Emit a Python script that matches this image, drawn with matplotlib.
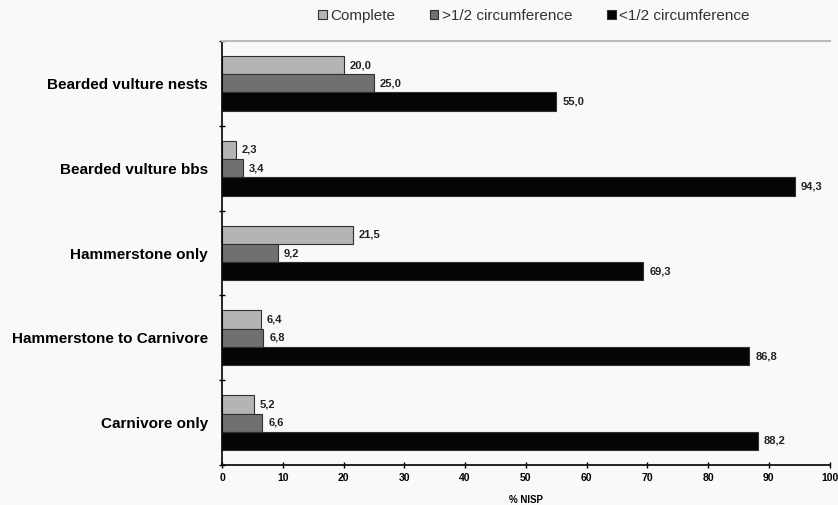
import matplotlib
matplotlib.use("Agg")
import matplotlib.pyplot as plt
import numpy as np

categories = ["Bearded vulture nests", "Bearded vulture bbs", "Hammerstone only",
              "Hammerstone to Carnivore", "Carnivore only"]
series_names = ["Complete", ">1/2 circumference", "<1/2 circumference"]
complete = [20.0, 2.3, 21.5, 6.4, 5.2]
more_half = [25.0, 3.4, 9.2, 6.8, 6.6]
less_half = [55.0, 94.3, 69.3, 86.8, 88.2]
colors = ["#b4b4b4", "#707070", "#050505"]

plt.rcParams['font.family'] = ['Liberation Sans', 'DejaVu Sans']
fig = plt.figure(figsize=(8.38, 5.05), dpi=100)
fig.patch.set_facecolor("#f9f9f9")
ax = fig.add_axes([0.265, 0.079, 0.725, 0.840])
ax.set_facecolor("#f9f9f9")

n = len(categories)
y = np.arange(n)
h = 0.215
for i, (vals, name, c) in enumerate(zip([complete, more_half, less_half], series_names, colors)):
    pos = y + (i - 1) * h
    ax.barh(pos, vals, height=h, color=c, edgecolor="#303030", linewidth=0.8, label=name)
    for p, v in zip(pos, vals):
        ax.text(v + 1.0, p, f"{v:.1f}".replace(".", ","), va="center", ha="left",
                fontsize=8, fontweight="bold", color="#222222")

ax.set_ylim(n - 0.5, -0.5)
ax.set_xlim(0, 100)
ax.set_xticks(np.arange(0, 101, 10))
ax.tick_params(axis="x", labelsize=7.5, direction="inout", length=5, width=1)
for lab in ax.get_xticklabels():
    lab.set_fontweight("bold")
ax.set_yticks(y)
ax.set_yticklabels(categories, fontsize=11, fontweight="bold")
ax.tick_params(axis="y", length=0, pad=10)
ax.set_yticks(np.arange(-0.5, n, 1), minor=True)
ax.tick_params(axis="y", which="minor", direction="inout", length=5, width=1)
ax.set_xlabel("% NISP", fontsize=7, fontweight="bold", labelpad=8)

ax.spines["right"].set_visible(False)
ax.spines["top"].set_color("#bbbbbb")
ax.spines["top"].set_linewidth(1.5)
ax.spines["left"].set_linewidth(1.2)
ax.spines["bottom"].set_linewidth(1.2)

leg = fig.legend(loc="upper center", bbox_to_anchor=(0.637, 1.01), ncol=3, frameon=False,
                 fontsize=11, handlelength=0.55, handleheight=0.55, handletextpad=0.2,
                 columnspacing=2.3)
for t in leg.get_texts():
    t.set_color("#333333")
fig.savefig("out.png", dpi=100, facecolor=fig.get_facecolor())
